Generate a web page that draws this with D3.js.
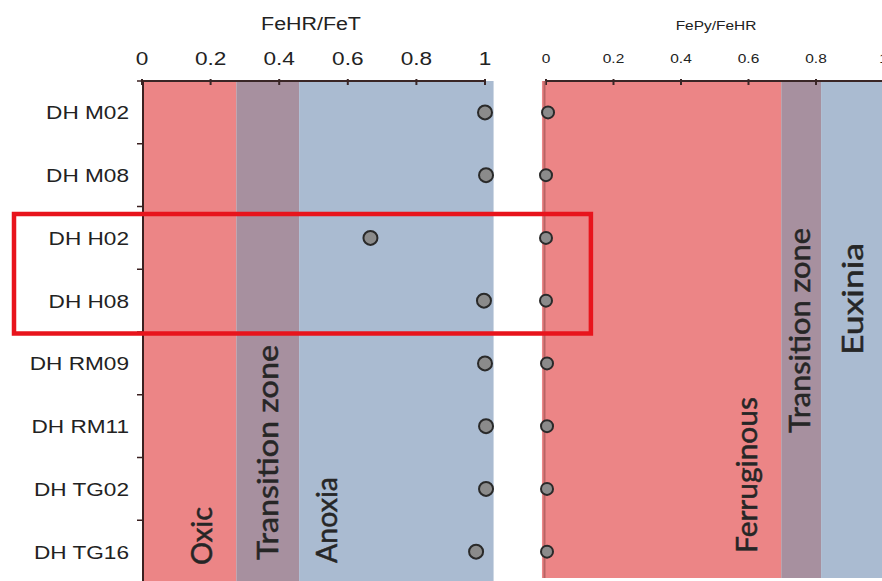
<!DOCTYPE html>
<html><head><meta charset="utf-8">
<script src="https://cdn.jsdelivr.net/npm/d3@7"></script>
<style>body{margin:0;background:#fff}svg{display:block}</style>
</head><body>
<svg id="c" width="882" height="581"></svg>
<script>
// ---- data ----
const samples = ["DH M02","DH M08","DH H02","DH H08","DH RM09","DH RM11","DH TG02","DH TG16"];
const fehrFet = [1.0, 1.003, 0.666, 0.997, 1.0, 1.003, 1.003, 0.974];
const fepyFehr = [0.006, 0.0, 0.0, 0.0, 0.003, 0.003, 0.003, 0.003];
const ticksLeft = [0, 0.2, 0.4, 0.6, 0.8, 1];
const tickLabelsLeft = ["0","0.2","0.4","0.6","0.8","1"];
const ticksRight = [0, 0.2, 0.4, 0.6, 0.8, 1];
const tickLabelsRight = ["0","0.2","0.4","0.6","0.8","1"];
const zoneNamesLeft = ["Oxic","Transition zone","Anoxia"];
const zoneBoundsLeft = [0, 0.275, 0.458, 1.025];
const zoneNamesRight = ["Ferruginous","Transition zone","Euxinia"];
const zoneBoundsRight = [-0.012, 0.697, 0.815, 1.2];
const highlighted = ["DH H02","DH H08"];
const titleLeft = "FeHR/FeT", titleRight = "FePy/FeHR";

// ---- style ----
const zoneColors = ["#ec8586","#a7909f","#aabbd1"];
const SX = 1.19; // horizontal text stretch of the reference
const svg = d3.select("#c");
const yTop = 81, yBot = 583;
const y = d3.scaleBand().domain(samples).range([yTop, yBot]);
const xL = d3.scaleLinear().domain([0,1]).range([142,485]);
const xR = d3.scaleLinear().domain([0,1]).range([546,883.5]);

function hText(g, x, yy, txt, size, anchor, fill){
  return g.append("text").attr("transform",`translate(${x},${yy}) scale(${SX},1)`)
    .attr("text-anchor",anchor).attr("font-family","Liberation Sans, Arial, sans-serif")
    .attr("font-size",size).attr("fill",fill||"#222").text(txt);
}

// zone bands
function bands(x, bounds, yEnd){
  for(let i=0;i<3;i++){
    svg.append("rect").attr("x",x(bounds[i])).attr("y",yTop)
      .attr("width",x(bounds[i+1])-x(bounds[i])).attr("height",yEnd-yTop)
      .attr("fill",zoneColors[i]);
  }
}
bands(xL, zoneBoundsLeft, 583);
bands(xR, zoneBoundsRight, 578);

// zone labels (rotated)
const zoneLabelPos = [
  {x: 212, y: 565, len: 58}, {x: 278, y: 560, len: 215}, {x: 337, y: 563, len: 86},
  {x: 757, y: 553, len: 156}, {x: 810, y: 433, len: 205}, {x: 863, y: 355, len: 112}
];
zoneNamesLeft.concat(zoneNamesRight).forEach((n,i)=>{
  const p = zoneLabelPos[i];
  svg.append("text").attr("transform",`translate(${p.x},${p.y}) rotate(-90)`)
    .attr("font-family","Lato, 'Open Sans', sans-serif").attr("font-size",28)
    .attr("fill","#262626").attr("stroke","#262626").attr("stroke-width",0.5)
    .attr("textLength",p.len).attr("lengthAdjust","spacingAndGlyphs")
    .text(n);
});

// left axes
svg.append("line").attr("x1",xL(0)).attr("x2",xL(1)).attr("y1",yTop).attr("y2",yTop)
  .attr("stroke","#3a2626").attr("stroke-width",2);
ticksLeft.forEach((t,i)=>{
  svg.append("line").attr("x1",xL(t)).attr("x2",xL(t)).attr("y1",yTop-2).attr("y2",yTop+4)
    .attr("stroke","#3a2626").attr("stroke-width",2);
  hText(svg, xL(t), 65, tickLabelsLeft[i], 19, "middle");
});
hText(svg, 311, 30, titleLeft, 18, "middle");
svg.append("line").attr("x1",143).attr("x2",143).attr("y1",yTop).attr("y2",581)
  .attr("stroke","#3a2020").attr("stroke-width",2);
samples.forEach((s,i)=>{
  svg.append("line").attr("x1",137).attr("x2",143).attr("y1",y(s)).attr("y2",y(s))
    .attr("stroke","#3a2020").attr("stroke-width",1.5);
  hText(svg, 129, y(s)+y.bandwidth()/2+7, s, 19, "end");
});

// right axes
svg.append("line").attr("x1",xR(0)).attr("x2",882).attr("y1",yTop).attr("y2",yTop)
  .attr("stroke","#3a2626").attr("stroke-width",2);
ticksRight.forEach((t,i)=>{
  svg.append("line").attr("x1",xR(t)).attr("x2",xR(t)).attr("y1",yTop-2).attr("y2",yTop+4)
    .attr("stroke","#3a2626").attr("stroke-width",2);
  hText(svg, xR(t), 63, tickLabelsRight[i], 13, "middle");
});
hText(svg, 716, 30, titleRight, 13, "middle");
svg.append("line").attr("x1",xR(0)-1.5).attr("x2",xR(0)-1.5).attr("y1",yTop).attr("y2",578)
  .attr("stroke","#b86464").attr("stroke-width",2);

// points
svg.selectAll("circle.l").data(samples).enter().append("circle")
  .attr("cx",(d,i)=>xL(fehrFet[i])).attr("cy",d=>y(d)+y.bandwidth()/2).attr("r",7)
  .attr("fill","#8b8b8b").attr("stroke","#2a2a2a").attr("stroke-width",2);
svg.selectAll("circle.r").data(samples).enter().append("circle")
  .attr("cx",(d,i)=>xR(fepyFehr[i])).attr("cy",d=>y(d)+y.bandwidth()/2).attr("r",6)
  .attr("fill","#8b8b8b").attr("stroke","#2a2a2a").attr("stroke-width",2);

// highlight box
const hTop = y(highlighted[0]) + 7.5;
const hBot = y(highlighted[highlighted.length-1]) + y.bandwidth() + 1.5;
svg.append("rect").attr("x",14).attr("y",hTop).attr("width",xR(0.133)-14).attr("height",hBot-hTop)
  .attr("fill","none").attr("stroke","#e8141c").attr("stroke-width",4.5);
</script>
</body></html>
